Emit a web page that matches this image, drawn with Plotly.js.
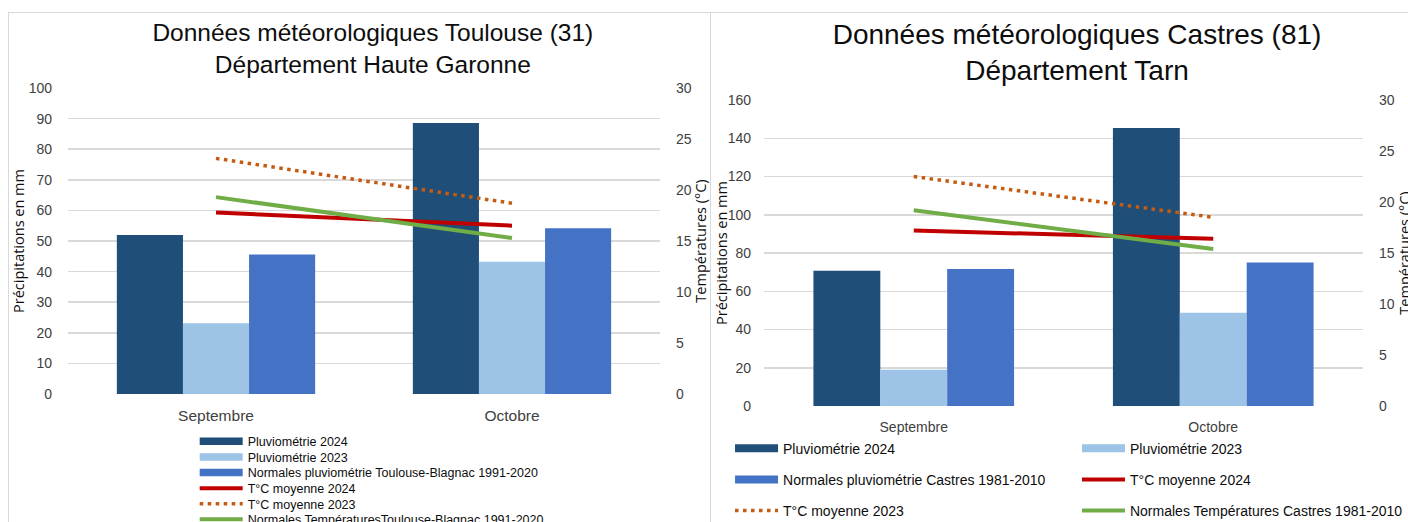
<!DOCTYPE html>
<html>
<head>
<meta charset="utf-8">
<script src="https://cdn.plot.ly/plotly-3.0.1.min.js"></script>
<style>
  html, body { margin: 0; padding: 0; width: 1408px; height: 522px; overflow: hidden; background: #fff; }
  #frameA { position: absolute; left: 8px; top: 12px; width: 701px; height: 600px; border-left: 1px solid #D9D9D9; border-top: 1px solid #D9D9D9; border-right: 1px solid #D9D9D9; }
  #frameB { position: absolute; left: 711px; top: 12px; width: 697px; height: 600px; border-top: 1px solid #D9D9D9; }
  #chartA { position: absolute; left: 9px; top: 13px; width: 701px; height: 560px; }
  #chartB { position: absolute; left: 712px; top: 13px; width: 760px; height: 560px; }
</style>
</head>
<body>
<div id="frameA"></div>
<div id="frameB"></div>
<div id="chartA"></div>
<div id="chartB"></div>
<script>
// ---------- data ----------
const months = ["Septembre", "Octobre"];

// Toulouse (31)
const toulousePluvio2024 = [52, 88.6];
const toulousePluvio2023 = [23.1, 43.2];
const toulouseNormPluvio = [45.6, 54.2];
const toulouseTemp2024 = [17.8, 16.5];
const toulouseTemp2023 = [23.1, 18.7];
const toulouseNormTemp = [19.3, 15.3];

// Castres (81)
const castresPluvio2024 = [70.7, 145.3];
const castresPluvio2023 = [18.9, 48.8];
const castresNormPluvio = [71.6, 75.0];
const castresTemp2024 = [17.2, 16.4];
const castresTemp2023 = [22.5, 18.5];
const castresNormTemp = [19.2, 15.4];

const names = {
  p24: "Pluviométrie 2024",
  p23: "Pluviométrie 2023",
  normPT: "Normales pluviométrie Toulouse-Blagnac 1991-2020",
  normPC: "Normales pluviométrie Castres 1981-2010",
  t24: "T°C moyenne 2024",
  t23: "T°C moyenne 2023",
  normTT: "Normales TempératuresToulouse-Blagnac 1991-2020",
  normTC: "Normales Températures Castres 1981-2010"
};

// ---------- styles ----------
const FONT = "Liberation Sans, Arial, sans-serif";
const C = {
  p24: "#1F4E79", p23: "#9DC3E6", norm: "#4472C4",
  t24: "#C00000", t23: "#C55A11", normT: "#70AD47",
  grid: "#D9D9D9", tick: "#404040", text: "#0D0D0D"
};

function traces(p24, p23, normP, t24, t23, normT, nameNormP, nameNormT, twoLegends) {
  const lg = (i) => twoLegends ? (i % 2 === 0 ? "legend" : "legend2") : "legend";
  return [
    { type: "bar", x: months, y: p24, name: names.p24, marker: { color: C.p24 }, legend: lg(0), legendgroup: "a", yaxis: "y" },
    { type: "bar", x: months, y: p23, name: names.p23, marker: { color: C.p23 }, legend: lg(1), legendgroup: "b", yaxis: "y" },
    { type: "bar", x: months, y: normP, name: nameNormP, marker: { color: C.norm }, legend: lg(2), legendgroup: "c", yaxis: "y" },
    { type: "scatter", mode: "lines", x: months, y: t24, name: names.t24, line: { color: C.t24, width: 4 }, legend: lg(3), legendgroup: "d", yaxis: "y2" },
    { type: "scatter", mode: "lines", x: months, y: t23, name: names.t23, line: { color: C.t23, width: 3.5, dash: "3.5px,4.5px" }, legend: lg(4), legendgroup: "e", yaxis: "y2" },
    { type: "scatter", mode: "lines", x: months, y: normT, name: nameNormT, line: { color: C.normT, width: 4 }, legend: lg(5), legendgroup: "f", yaxis: "y2" }
  ];
}

function baseLayout(o) {
  return {
    width: o.w, height: 560,
    margin: o.margin,
    paper_bgcolor: "rgba(0,0,0,0)", plot_bgcolor: "rgba(0,0,0,0)",
    font: { family: FONT, color: C.text },
    title: { text: o.title, font: { family: FONT, size: o.titleSize, color: C.text }, x: o.titleX, xref: "container", xanchor: "center", y: o.titleY, yref: "container", yanchor: "top" },
    barmode: "group", bargap: 0.33, bargroupgap: 0,
    xaxis: { type: "category", showgrid: false, zeroline: false, showline: false, ticks: "", tickfont: { family: FONT, size: o.catSize, color: C.tick }, ticklabelstandoff: o.catStandoff },
    yaxis: { range: [0, o.ymax], dtick: o.ydtick, showgrid: true, gridcolor: C.grid, gridwidth: 1.5, zeroline: false, showline: false, ticks: "", tickfont: { family: FONT, size: 14, color: C.tick }, ticklabelstandoff: o.yStandoff,
      title: { text: "Précipitations en mm", font: { family: "Open Sans, " + FONT, size: 14.5, color: C.text }, standoff: 2 } },
    yaxis2: { range: [0, 30], dtick: 5, overlaying: "y", side: "right", showgrid: false, zeroline: false, showline: false, ticks: "", tickfont: { family: FONT, size: 14, color: C.tick }, ticklabelstandoff: o.y2Standoff,
      title: { text: "Températures (°C)", font: { family: "Open Sans, " + FONT, size: 14.5, color: C.text }, standoff: 0 } },
    showlegend: true
  };
}

// legend cosmetics: wide rectangles for bar keys, optional row pitch
function tidyLegend(gd, barH, pitch) {
  gd.querySelectorAll("g.legendpoints path").forEach(p => {
    const d = (p.getAttribute("d") || "").replace(/\s/g, "");
    if (d === "M6,6H-6V-6H6Z") {
      p.setAttribute("d", "M-21.5," + (barH / 2) + "H21.5V" + (-barH / 2) + "H-21.5Z");
    }
  });
  if (pitch) {
    gd.querySelectorAll("g.traces").forEach((g, i, all) => {});
    const items = gd.querySelectorAll("g.legend g.traces");
    let y0 = null;
    items.forEach((g, i) => {
      const m = /translate\(\s*([-\d.e]+)[ ,]+([-\d.e]+)\s*\)/.exec(g.getAttribute("transform") || "");
      if (!m) return;
      if (y0 === null) y0 = parseFloat(m[2]);
      g.setAttribute("transform", "translate(" + m[1] + "," + (y0 + i * pitch) + ")");
    });
  }
}

// ---------- Chart A: Toulouse ----------
const layoutA = baseLayout({
  w: 701, margin: { l: 59, r: 50, t: 75, b: 179, pad: 0 },
  title: "Données météorologiques Toulouse (31)<br>Département Haute Garonne",
  titleSize: 24.5, titleX: 0.519, titleY: 0.950,
  catSize: 15.5, catStandoff: 10, ymax: 100, ydtick: 10, yStandoff: 15, y2Standoff: 15
});
layoutA.legend = { x: 0.214, xanchor: "left", y: -0.107, yanchor: "top", orientation: "v", traceorder: "normal", tracegroupgap: 0, itemwidth: 43, font: { family: FONT, size: 12.5, color: C.text }, bgcolor: "rgba(0,0,0,0)" };

Plotly.newPlot("chartA",
  traces(toulousePluvio2024, toulousePluvio2023, toulouseNormPluvio, toulouseTemp2024, toulouseTemp2023, toulouseNormTemp, names.normPT, names.normTT, false),
  layoutA, { displayModeBar: false, staticPlot: true }).then(gd => tidyLegend(gd, 7.5, 15.6));

// ---------- Chart B: Castres ----------
const layoutB = baseLayout({
  w: 760, margin: { l: 52, r: 109, t: 87, b: 167, pad: 0 },
  title: "Données météorologiques Castres (81)<br>Département Tarn",
  titleSize: 28, titleX: 0.4803, titleY: 0.945,
  catSize: 14, catStandoff: 11, ymax: 160, ydtick: 20, yStandoff: 12, y2Standoff: 15
});
const legB = { xanchor: "left", y: -0.087, yanchor: "top", orientation: "v", traceorder: "grouped", tracegroupgap: 10, itemwidth: 43, font: { family: FONT, size: 14, color: C.text }, bgcolor: "rgba(0,0,0,0)" };
layoutB.legend = Object.assign({ x: -0.0567 }, legB);
layoutB.legend2 = Object.assign({ x: 0.5225 }, legB);

Plotly.newPlot("chartB",
  traces(castresPluvio2024, castresPluvio2023, castresNormPluvio, castresTemp2024, castresTemp2023, castresNormTemp, names.normPC, names.normTC, true),
  layoutB, { displayModeBar: false, staticPlot: true }).then(gd => tidyLegend(gd, 8, null));
</script>
</body>
</html>
